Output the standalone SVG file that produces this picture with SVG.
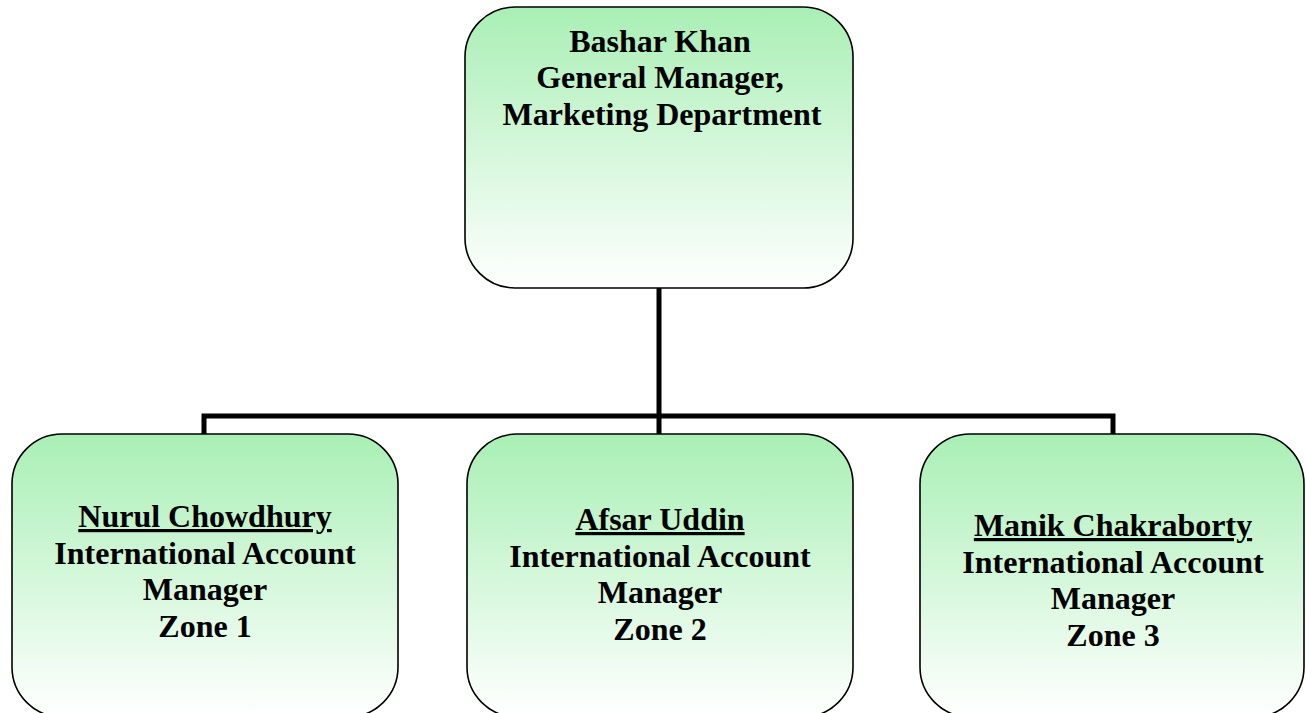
<svg xmlns="http://www.w3.org/2000/svg" width="1306" height="713" viewBox="0 0 1306 713">
  <defs>
    <linearGradient id="boxFill" x1="0" y1="0" x2="0" y2="1">
      <stop offset="0" stop-color="#a9efb5"/>
      <stop offset="1" stop-color="#ffffff"/>
    </linearGradient>
  </defs>
  <style>
    .box { fill: url(#boxFill); stroke: #000; stroke-width: 1.6; }
    .lbl { font-family: "Liberation Serif", "Times New Roman", serif; font-weight: bold; font-size: 32px; fill: #000; text-anchor: middle; }
    .name { text-decoration: underline; }
    .wire { fill: none; stroke: #000; stroke-width: 5; stroke-linejoin: miter; }
  </style>

  <rect width="1306" height="713" fill="#fff"/>

  <!-- reporting lines -->
  <g id="connectors">
    <path class="wire" d="M659 288 V416"/>
    <path class="wire" d="M204 434 V416 H1113 V434"/>
    <path class="wire" d="M659 416 V434"/>
  </g>

  <g id="gm">
    <rect class="box" x="465" y="7" width="388" height="281" rx="50" ry="50"/>
    <text class="lbl" x="660" y="52">Bashar Khan</text>
    <text class="lbl" x="660" y="88">General Manager,</text>
    <text class="lbl" x="662" y="125">Marketing Department</text>
  </g>

  <g id="zone1">
    <rect class="box" x="12" y="434" width="386" height="283" rx="50" ry="50"/>
    <text class="lbl" x="205" y="527"><tspan class="name">Nurul Chowdhury</tspan></text>
    <text class="lbl" x="205" y="564">International Account</text>
    <text class="lbl" x="205" y="600">Manager</text>
    <text class="lbl" x="205" y="637">Zone 1</text>
  </g>

  <g id="zone2">
    <rect class="box" x="467" y="434" width="386" height="283" rx="50" ry="50"/>
    <text class="lbl" x="660" y="530"><tspan class="name">Afsar Uddin</tspan></text>
    <text class="lbl" x="660" y="567">International Account</text>
    <text class="lbl" x="660" y="603">Manager</text>
    <text class="lbl" x="660" y="640">Zone 2</text>
  </g>

  <g id="zone3">
    <rect class="box" x="920" y="434" width="384" height="283" rx="50" ry="50"/>
    <text class="lbl" x="1113" y="536"><tspan class="name">Manik Chakraborty</tspan></text>
    <text class="lbl" x="1113" y="573">International Account</text>
    <text class="lbl" x="1113" y="609">Manager</text>
    <text class="lbl" x="1113" y="646">Zone 3</text>
  </g>
</svg>
